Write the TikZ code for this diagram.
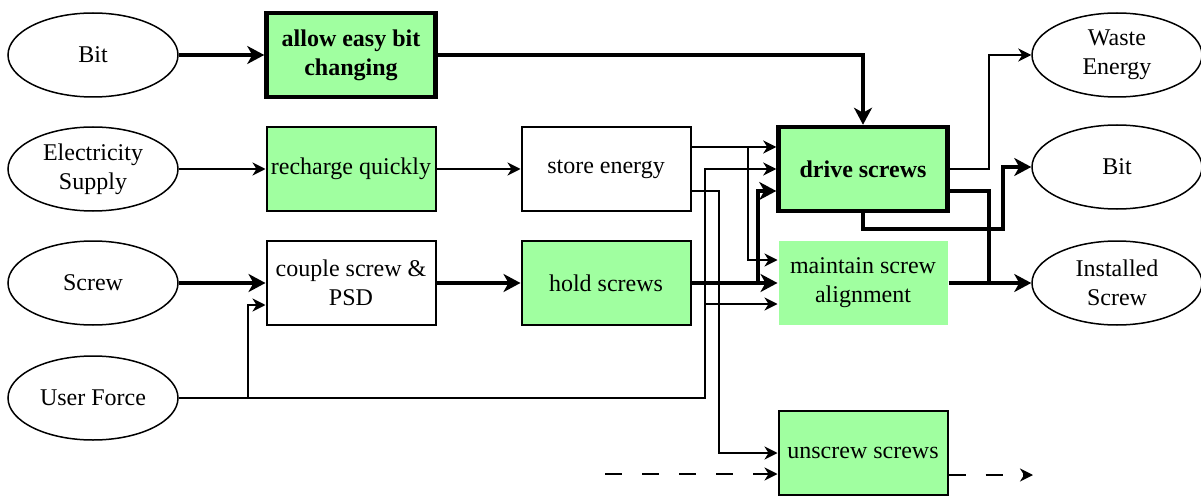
\documentclass[tikz,border=0pt]{standalone}
\usepackage{fontspec}
\setmainfont{Liberation Serif}
\usetikzlibrary{shapes.geometric, arrows.meta}
\definecolor{fngreen}{RGB}{160,255,160}

\begin{document}
\begin{tikzpicture}[x=1pt, y=-1pt,
    every node/.style={font=\fontsize{24}{29}\selectfont, align=center},
    terminal/.style={ellipse, draw, line width=1.5pt, minimum width=170pt, minimum height=84pt, inner sep=1pt},
    fnbox/.style={rectangle, draw, line width=2pt, minimum width=169pt, minimum height=84pt, inner sep=3pt},
    keybox/.style={fnbox, line width=4.5pt, fill=fngreen, font=\fontsize{24}{29}\selectfont\bfseries},
    flow/.style={line width=2pt, -{Stealth[length=13pt, width=13pt, inset=4pt]}},
    bigflow/.style={line width=4.5pt, -{Stealth[length=17pt, width=18pt, inset=5pt]}},
    bigline/.style={line width=4.5pt},
    dashflow/.style={flow, dash pattern=on 17pt off 20pt}]
    \useasboundingbox (0,0) rectangle (1201,497);

    % Inputs
    \node[terminal] (bitIn) at (93,55) {Bit};
    \node[terminal] (elec) at (93,169) {Electricity\\Supply};
    \node[terminal] (screwIn) at (93,283) {Screw};
    \node[terminal] (user) at (93,398) {User Force};

    % Functions
    \node[keybox] (allow) at (351,55) {allow easy bit\\changing};
    \node[fnbox, fill=fngreen] (recharge) at (351,169) {recharge quickly};
    \node[fnbox] (store) at (606,169) {store energy};
    \node[fnbox] (couple) at (351,283) {couple screw \&\\PSD};
    \node[fnbox, fill=fngreen] (hold) at (606,283) {hold screws};
    \node[keybox] (drive) at (863,169) {drive screws};
    \node[fnbox, draw=none, fill=fngreen] (maint) at (863,283) {maintain screw\\alignment};
    \node[fnbox, fill=fngreen] (unscrew) at (863,453) {unscrew screws};

    % Outputs
    \node[terminal] (waste) at (1117,55) {Waste\\Energy};
    \node[terminal] (bitOut) at (1117,167) {Bit};
    \node[terminal] (installed) at (1117,283) {Installed\\Screw};

    % Junctions
    \coordinate (jS1) at (748,147);
    \coordinate (jS2) at (719,191);
    \coordinate (jU1) at (248,398);
    \coordinate (jU2) at (705,398);
    \coordinate (jU3) at (705,304);
    \coordinate (jH1) at (758,283);
    \coordinate (jD1) at (989,169);
    \coordinate (jD2) at (989,283);
    \coordinate (jD3) at (1003,229);
    \coordinate (dashIn) at (605,474);
    \coordinate (dashOut) at (1033,475);

    % Bit and screw flows
    \draw[bigflow] (bitIn.east) -- (allow.west);
    \draw[bigflow] (allow.east) -| (drive.north);
    \draw[bigflow] (screwIn.east) -- (couple.west);
    \draw[bigflow] (couple.east) -- (hold.west);
    \draw[bigflow] (hold.east) -- (maint.west);
    \draw[bigflow] (jH1) |- ([yshift=-22pt]drive.west);

    % Energy flows
    \draw[flow] (elec.east) -- (recharge.west);
    \draw[flow] (recharge.east) -- (store.west);
    \draw[flow] ([yshift=22pt]store.east) -- ([yshift=22pt]drive.west);
    \draw[flow] (jS1) |- ([yshift=23pt]maint.west);
    \draw[flow] ([yshift=-22pt]store.east) -- (jS2) |- (unscrew.west);

    % User force
    \draw[flow] (user.east) -- (jU2) |- (drive.west);
    \draw[flow] (jU3) -- (jU3 -| maint.west);
    \draw[flow] (jU1) |- ([yshift=-22pt]couple.west);

    % Outputs
    \draw[flow] (drive.east) -- (jD1) |- (waste.west);
    \draw[bigline] ([yshift=-22pt]drive.east) -| (jD2);
    \draw[bigflow] (maint.east) -- (installed.west);
    \draw[bigflow] (drive.south) |- (jD3) |- (bitOut.west);

    % Unscrew flows
    \draw[dashflow] (dashIn) -- (dashIn -| unscrew.west);
    \draw[dashflow] (unscrew.east |- dashOut) -- (dashOut);
\end{tikzpicture}
\end{document}
